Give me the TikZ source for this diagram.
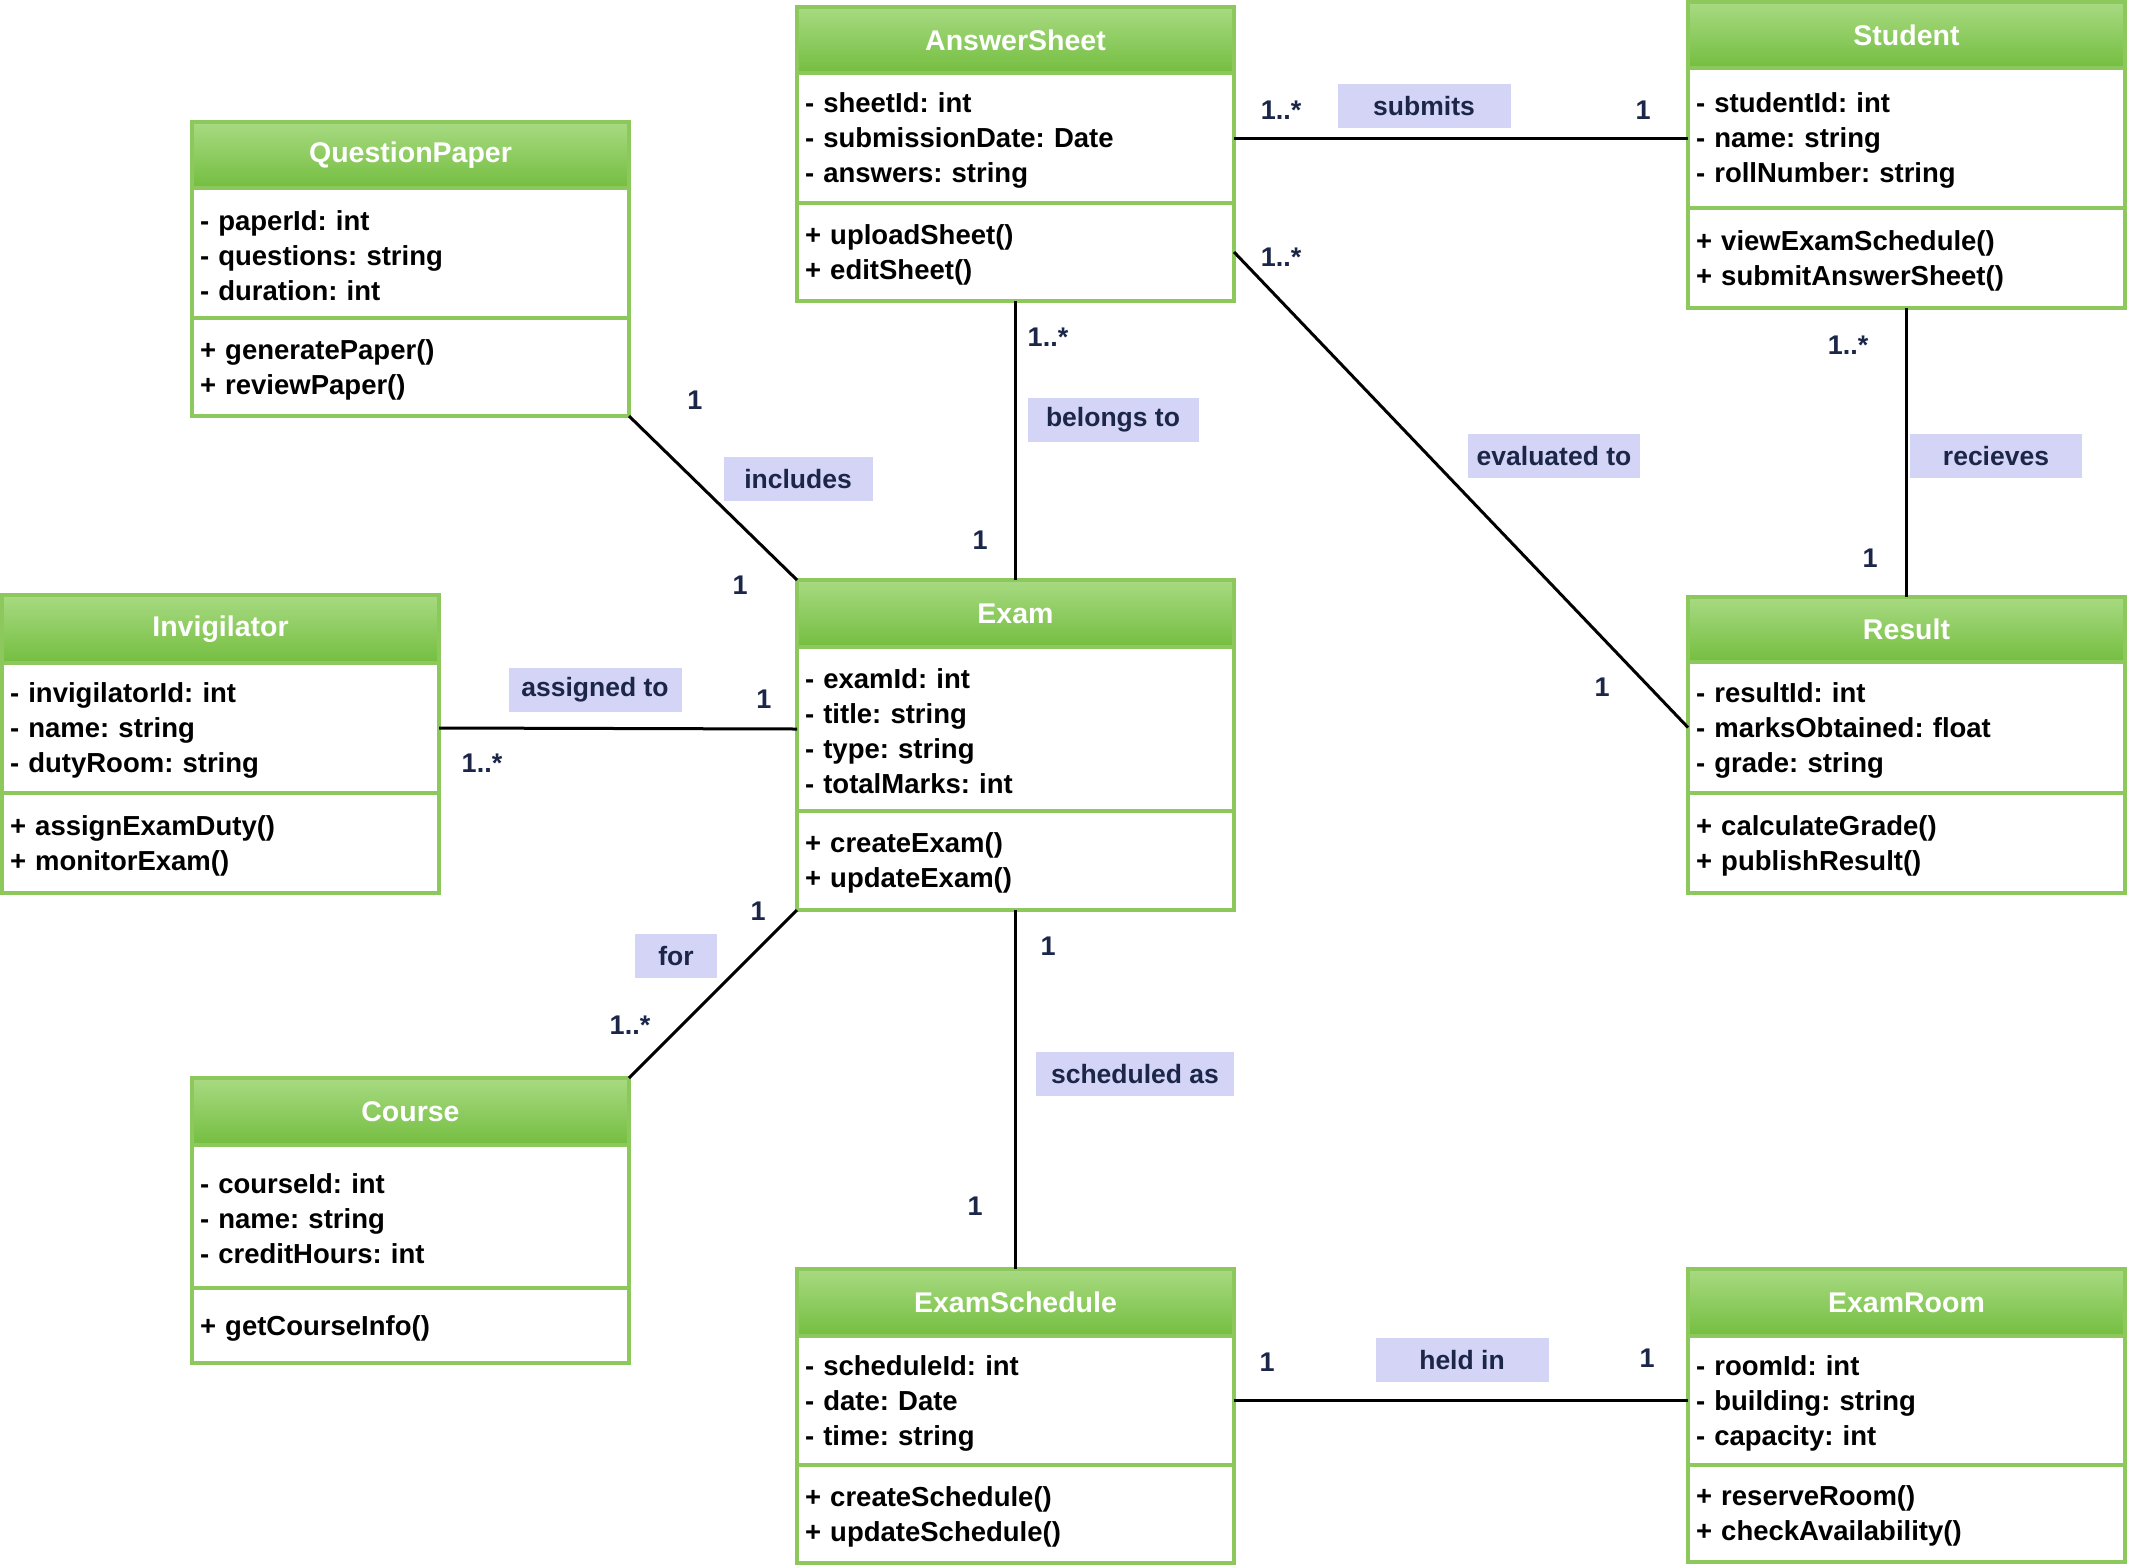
\documentclass[tikz,border=0pt]{standalone}
\usepackage{fontspec}
\setmainfont{Liberation Sans}
\frenchspacing
\usetikzlibrary{calc}
\definecolor{gtop}{HTML}{A8DA82}
\definecolor{gbot}{HTML}{74BE40}
\definecolor{gbord}{HTML}{8CC85C}
\definecolor{lblfill}{HTML}{D3D4F6}
\definecolor{navy}{HTML}{1B2648}
\tikzset{
  hdr/.style={draw=gbord, line width=3.5pt, top color=gtop, bottom color=gbot,
    minimum width=437pt, outer sep=0pt, inner sep=0pt, text=white,
    font=\fontsize{28.5}{34}\selectfont\bfseries},
  cmp/.style={draw=gbord, line width=3.5pt, fill=white, minimum width=437pt,
    text width=421pt, inner xsep=8pt, inner ysep=0pt, outer sep=0pt, align=left,
    font=\fontsize{27.5}{35}\selectfont\bfseries,
    execute at begin node={\rule{0pt}{25pt}}},
  assoc/.style={line width=3pt, black},
  lbl/.style={fill=lblfill, text=navy, font=\fontsize{26.5}{30}\selectfont\bfseries,
    minimum height=44pt, inner sep=0pt},
  mult/.style={text=navy, font=\fontsize{27}{30}\selectfont\bfseries, inner sep=0pt},
}
\newcommand\umlclass[9]{%
  \node[hdr, anchor=north west, minimum height=#4pt] (#1-h) at (#2,#3) {#7};
  \node[cmp, anchor=north, minimum height=#5pt] (#1-a) at (#1-h.south) {#8};
  \node[cmp, anchor=north, minimum height=#6pt] (#1-m) at (#1-a.south) {#9};
}
\begin{document}
\begin{tikzpicture}[x=1pt, y=-1pt]
\fill[white] (0,0) rectangle (2129,1567);
\useasboundingbox (0,0) rectangle (2129,1567);

\umlclass{as}{797}{7}{66}{130}{98}{AnswerSheet}{- sheetId: int\\- submissionDate: Date\\- answers: string}{+ uploadSheet()\\+ editSheet()}
\umlclass{st}{1688}{2}{66}{140}{100}{Student}{- studentId: int\\- name: string\\- rollNumber: string}{+ viewExamSchedule()\\+ submitAnswerSheet()}
\umlclass{qp}{192}{122}{66}{130}{98}{QuestionPaper}{- paperId: int\\- questions: string\\- duration: int}{+ generatePaper()\\+ reviewPaper()}
\umlclass{iv}{2}{595}{68}{130}{100}{Invigilator}{- invigilatorId: int\\- name: string\\- dutyRoom: string}{+ assignExamDuty()\\+ monitorExam()}
\umlclass{ex}{797}{580}{67}{164}{99}{Exam}{- examId: int\\- title: string\\- type: string\\- totalMarks: int}{+ createExam()\\+ updateExam()}
\umlclass{rs}{1688}{597}{65}{131}{100}{Result}{- resultId: int\\- marksObtained: float\\- grade: string}{+ calculateGrade()\\+ publishResult()}
\umlclass{co}{192}{1078}{67}{143}{75}{Course}{- courseId: int\\- name: string\\- creditHours: int}{+ getCourseInfo()}
\umlclass{es}{797}{1269}{67}{129}{98}{ExamSchedule}{- scheduleId: int\\- date: Date\\- time: string}{+ createSchedule()\\+ updateSchedule()}
\umlclass{er}{1688}{1269}{67}{129}{97}{ExamRoom}{- roomId: int\\- building: string\\- capacity: int}{+ reserveRoom()\\+ checkAvailability()}

\draw[assoc] (as-a.east) -- (st-a.west);
\draw[assoc] (as-m.east) -- (rs-a.west);
\draw[assoc] (as-m.south) -- (ex-h.north);
\draw[assoc] (st-m.south) -- (rs-h.north);
\draw[assoc] (qp-m.south east) -- (ex-h.north west);
\draw[assoc] (iv-a.east) -- (ex-a.west);
\draw[assoc] (ex-m.south west) -- (co-h.north east);
\draw[assoc] (ex-m.south) -- (es-h.north);
\draw[assoc] (es-a.east) -- (er-a.west);

% association labels
\node[lbl, minimum width=173pt] (l-sub) at (1424,106) {submits};
\node[lbl, minimum width=172pt] (l-eval) at (1554,456) {evaluated to};
\node[lbl, minimum width=171pt] (l-bel) at (1113,420) {belongs to};
\node[lbl, minimum width=172pt] (l-rec) at (1996,456) {recieves};
\node[lbl, minimum width=149pt] (l-inc) at (798,479) {includes};
\node[lbl, minimum width=173pt] (l-asg) at (595,690) {assigned to};
\node[lbl, minimum width=82pt] (l-for) at (676,956) {for};
\node[lbl, minimum width=198pt] (l-sch) at (1135,1074) {scheduled as};
\node[lbl, minimum width=173pt] (l-held) at (1462,1360) {held in};

% multiplicities
\node[mult] (m1) at (1281,110) {1..*};
\node[mult] (m2) at (1643,110) {1};
\node[mult] (m3) at (1281,257) {1..*};
\node[mult] (m4) at (1602,687) {1};
\node[mult] (m5) at (1048,337) {1..*};
\node[mult] (m6) at (980,540) {1};
\node[mult] (m7) at (1848,345) {1..*};
\node[mult] (m8) at (1870,558) {1};
\node[mult] (m9) at (695,400) {1};
\node[mult] (m10) at (740,585) {1};
\node[mult] (m11) at (764,699) {1};
\node[mult] (m12) at (482,763) {1..*};
\node[mult] (m13) at (758,911) {1};
\node[mult] (m14) at (630,1025) {1..*};
\node[mult] (m15) at (1048,946) {1};
\node[mult] (m16) at (975,1206) {1};
\node[mult] (m17) at (1267,1362) {1};
\node[mult] (m18) at (1647,1358) {1};
\end{tikzpicture}
\end{document}
